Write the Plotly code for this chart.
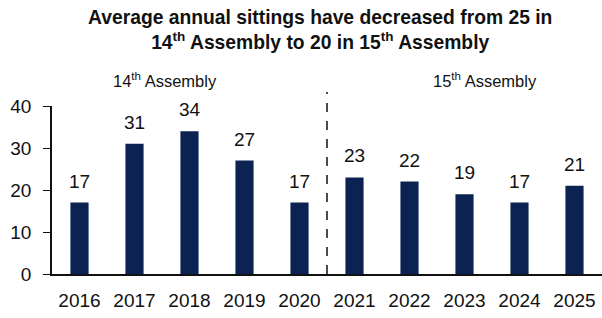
import plotly.graph_objects as go

years = ["2016", "2017", "2018", "2019", "2020", "2021", "2022", "2023", "2024", "2025"]
sittings = [17, 31, 34, 27, 17, 23, 22, 19, 17, 21]
y_ticks = [0, 10, 20, 30, 40]

FONT = "Liberation Sans, Arial"
INK = "#111111"

fig = go.Figure()
fig.add_trace(go.Bar(
    x=years, y=sittings, width=0.33,
    marker=dict(color="#0b2253", line=dict(width=0)),
))

for i, v in enumerate(sittings):
    fig.add_annotation(x=i, y=v, xref="x", yref="y", text=str(v), showarrow=False,
                       yanchor="bottom", yshift=9,
                       font=dict(family=FONT, size=19, color=INK))

fig.add_shape(type="line", xref="x", yref="paper", x0=4.5, x1=4.5, y0=0, y1=1.083,
              line=dict(color=INK, width=1.5, dash="dash"))
fig.add_annotation(x=1.55, y=1.155, xref="x", yref="paper", showarrow=False, yanchor="middle",
                   text="14<sup>th</sup> Assembly", font=dict(family=FONT, size=16.5, color=INK))
fig.add_annotation(x=7.37, y=1.155, xref="x", yref="paper", showarrow=False, yanchor="middle",
                   text="15<sup>th</sup> Assembly", font=dict(family=FONT, size=16.5, color=INK))

fig.add_annotation(x=0.487, y=1.45, xref="paper", yref="paper", showarrow=False,
                   xanchor="center", yanchor="middle",
                   text="<b>Average annual sittings have decreased from 25 in<br>14<sup>th</sup> Assembly to 20 in 15<sup>th</sup> Assembly</b>",
                   font=dict(family=FONT, size=19.3, color=INK))

fig.update_layout(
    width=602, height=318,
    margin=dict(l=52, r=0, t=106, b=44),
    plot_bgcolor="white", paper_bgcolor="white",
    showlegend=False,
)
fig.update_xaxes(type="category", range=[-0.5, 9.5], showline=True, linecolor=INK, linewidth=1.5,
                 ticks="", tickfont=dict(family=FONT, size=19, color=INK),
                 showgrid=False, ticklabelstandoff=8)
fig.update_yaxes(range=[0, 40], tickvals=y_ticks, showline=True, linecolor=INK, linewidth=1.5,
                 ticks="outside", ticklen=7, tickcolor=INK, showgrid=False, zeroline=False,
                 ticklabelstandoff=8,
                 tickfont=dict(family=FONT, size=19, color=INK))

fig.write_html("out.html", config={"displayModeBar": False})
with open("out.html", "r", encoding="utf-8") as f:
    html = f.read()
html = html.replace("<head>", "<head><style>html,body{margin:0;padding:0;}</style>", 1)
with open("out.html", "w", encoding="utf-8") as f:
    f.write(html)
